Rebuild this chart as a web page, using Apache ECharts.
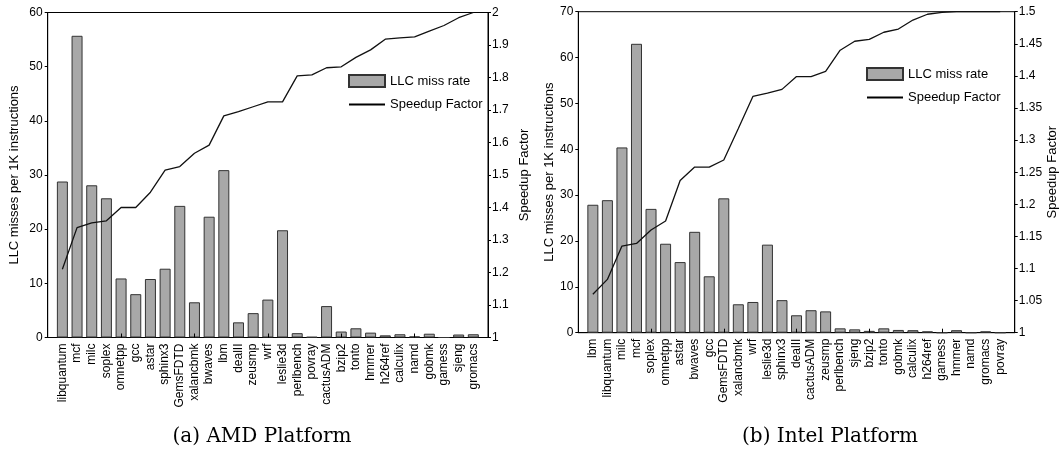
<!DOCTYPE html>
<html>
<head>
<meta charset="utf-8">
<script src="https://cdn.jsdelivr.net/npm/echarts@6/dist/echarts.min.js"></script>
<style>html,body{margin:0;padding:0;background:#fff}#c{width:1060px;height:451px}</style>
</head>
<body>
<div id="c"></div>
<script>
const amdCats = ['libquantum','mcf','milc','soplex','omnetpp','gcc','astar','sphinx3','GemsFDTD','xalancbmk','bwaves','lbm','dealII','zeusmp','wrf','leslie3d','perlbench','povray','cactusADM','bzip2','tonto','hmmer','h264ref','calculix','namd','gobmk','gamess','sjeng','gromacs'];
const amdMiss = [28.8,55.7,28.1,25.7,10.9,8.0,10.8,12.7,24.3,6.5,22.3,30.9,2.8,4.5,7.0,19.8,0.8,0.1,5.8,1.1,1.7,0.9,0.4,0.6,0.2,0.7,0,0.55,0.6];
const amdSpeed = [1.21,1.338,1.353,1.359,1.40,1.40,1.447,1.515,1.526,1.567,1.592,1.682,1.695,1.71,1.725,1.725,1.805,1.808,1.83,1.833,1.862,1.885,1.918,1.922,1.925,1.943,1.96,1.984,2.0];

const intelCats = ['lbm','libquantum','milc','mcf','soplex','omnetpp','astar','bwaves','gcc','GemsFDTD','xalancbmk','wrf','leslie3d','sphinx3','dealII','cactusADM','zeusmp','perlbench','sjeng','bzip2','tonto','gobmk','calculix','h264ref','gamess','hmmer','namd','gromacs','povray'];
const intelMiss = [27.9,28.9,40.4,63.0,27.0,19.4,15.4,22.0,12.3,29.3,6.2,6.7,19.2,7.1,3.8,4.9,4.65,0.95,0.73,0.4,0.95,0.6,0.55,0.3,0,0.55,0,0.3,0];
const intelSpeed = [1.060,1.083,1.135,1.139,1.160,1.174,1.237,1.258,1.258,1.269,1.318,1.368,1.373,1.379,1.399,1.399,1.407,1.440,1.454,1.457,1.468,1.473,1.487,1.496,1.499,1.5,1.5,1.5,1.5];

const captions = ['(a) AMD Platform', '(b) Intel Platform'];
const leftName = 'LLC misses per 1K instructions';
const rightName = 'Speedup Factor';
const barName = 'LLC miss rate';

const FONT = 'Liberation Sans, Arial, sans-serif';
const pad = a => [null, ...a, null];
const padCats = a => ['', ...a, ''];

const chart = echarts.init(document.getElementById('c'), null, {renderer: 'canvas'});

function catAxis(grid, cats) {
  return {
    type: 'category', gridIndex: grid, data: padCats(cats), boundaryGap: false,
    axisLine: {show: true, lineStyle: {color: '#000', width: 1}},
    axisTick: {show: false},
    axisLabel: {interval: 0, rotate: 90, fontSize: 12, color: '#000', fontFamily: FONT, margin: 6},
    splitLine: {show: false}
  };
}
function tickAxis(grid) {
  return {
    type: 'value', gridIndex: grid, min: 0, max: 30, interval: 5, position: 'bottom', z: 10,
    axisLine: {show: false},
    axisTick: {show: true, inside: true, length: 4, lineStyle: {color: '#000'}},
    axisLabel: {show: false}, splitLine: {show: false}
  };
}
function yLeft(grid, max, interval, gap) {
  return {
    type: 'value', gridIndex: grid, position: 'left', min: 0, max: max, interval: interval,
    name: leftName, nameLocation: 'middle', nameGap: gap, nameRotate: 90,
    nameTextStyle: {fontSize: 13, color: '#000', fontFamily: FONT},
    axisLine: {show: true, lineStyle: {color: '#000'}},
    axisTick: {show: true, length: 3, lineStyle: {color: '#000'}},
    axisLabel: {fontSize: 12, color: '#000', fontFamily: FONT, margin: 5},
    splitLine: {show: false}
  };
}
function yRight(grid, min, max, interval, gap) {
  return {
    type: 'value', gridIndex: grid, position: 'right', min: min, max: max, interval: interval,
    name: rightName, nameLocation: 'middle', nameGap: gap, nameRotate: 90,
    nameTextStyle: {fontSize: 13, color: '#000', fontFamily: FONT},
    axisLine: {show: true, lineStyle: {color: '#000'}},
    axisTick: {show: true, length: 3, lineStyle: {color: '#000'}},
    axisLabel: {fontSize: 12, color: '#000', fontFamily: FONT, margin: 4,
      formatter: v => String(+v.toFixed(2))},
    splitLine: {show: false}
  };
}
const barStyle = {color: '#a8a8a8', borderColor: '#333', borderWidth: 1};
const lineStyle = {color: '#111', width: 1.3};

function legend(left, top) {
  return {
    left: left, top: top, padding: 0, orient: 'vertical', itemWidth: 36, itemHeight: 12, itemGap: 10,
    textStyle: {fontSize: 13, color: '#000', fontFamily: FONT},
    selectedMode: false,
    data: [
      {name: barName, icon: 'rect'},
      {name: rightName, icon: 'path://M0,0 H36 V2 H0 Z', itemStyle: {color: '#000', borderWidth: 0}}
    ]
  };
}

chart.setOption({
  animation: false,
  backgroundColor: '#fff',
  grid: [
    {left: 47.7, right: 572, top: 12.5, bottom: 113.5, show: true, borderColor: '#000', borderWidth: 1, backgroundColor: 'transparent'},
    {left: 578.3, right: 45, top: 11.7, bottom: 118.3, show: true, borderColor: '#000', borderWidth: 1, backgroundColor: 'transparent'}
  ],
  legend: [legend(348, 74), legend(866, 67)],
  xAxis: [catAxis(0, amdCats), tickAxis(0), catAxis(1, intelCats), tickAxis(1)],
  yAxis: [yLeft(0, 60, 10, 27), yRight(0, 1, 2, 0.1, 30), yLeft(1, 70, 10, 19), yRight(1, 1, 1.5, 0.05, 31)],
  series: [
    {name: barName, type: 'bar', xAxisIndex: 0, yAxisIndex: 0, data: pad(amdMiss), barWidth: 11, itemStyle: barStyle},
    {name: rightName, type: 'line', xAxisIndex: 0, yAxisIndex: 1, data: pad(amdSpeed), symbol: 'none', lineStyle: lineStyle, z: 5},
    {name: barName, type: 'bar', xAxisIndex: 2, yAxisIndex: 2, data: pad(intelMiss), barWidth: 11, itemStyle: barStyle},
    {name: rightName, type: 'line', xAxisIndex: 2, yAxisIndex: 3, data: pad(intelSpeed), symbol: 'none', lineStyle: lineStyle, z: 5}
  ],
  graphic: [
    {type: 'text', x: 262, y: 437, style: {text: captions[0], font: '20px "DejaVu Serif", serif', fill: '#000', textAlign: 'center', textVerticalAlign: 'middle'}},
    {type: 'text', x: 830, y: 437, style: {text: captions[1], font: '20px "DejaVu Serif", serif', fill: '#000', textAlign: 'center', textVerticalAlign: 'middle'}}
  ]
});
</script>
</body>
</html>
